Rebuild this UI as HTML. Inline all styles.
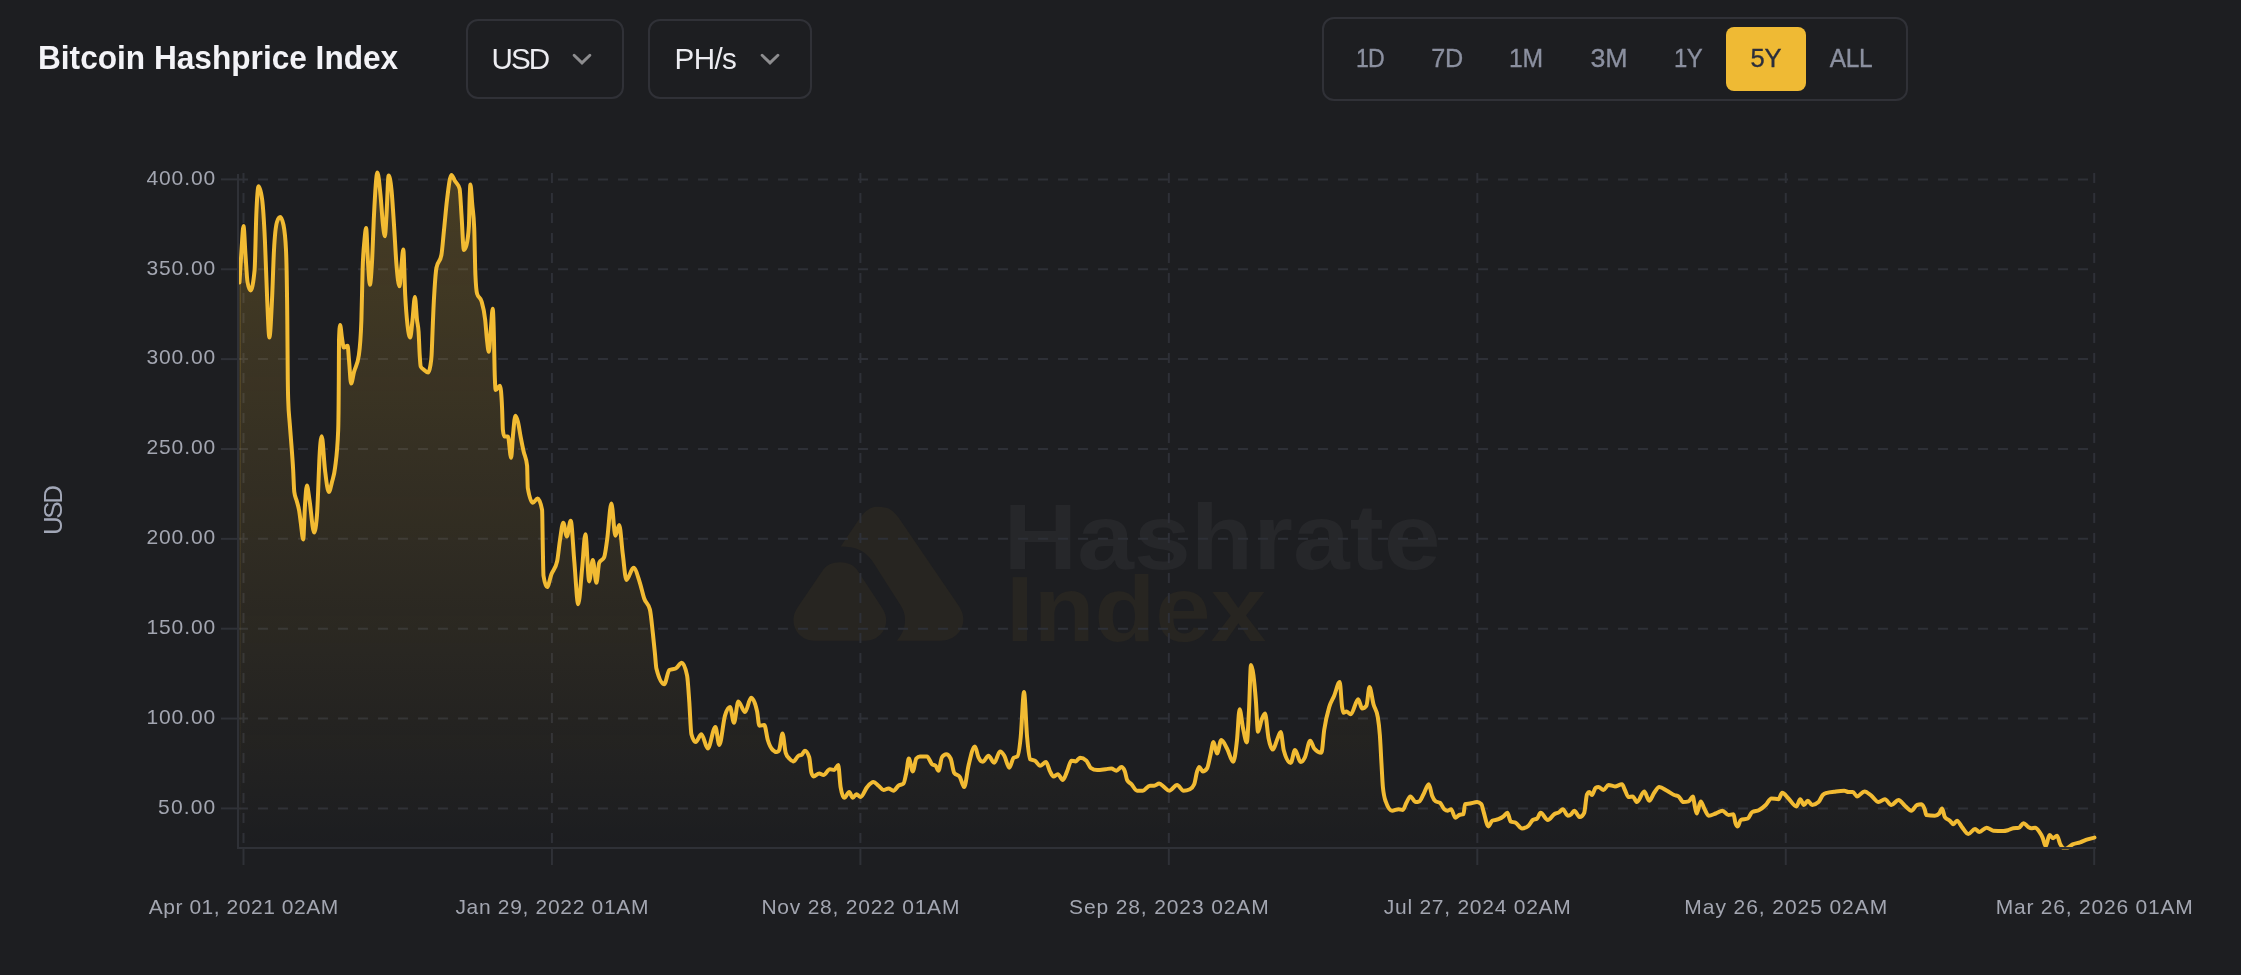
<!DOCTYPE html>
<html lang="en"><head><meta charset="utf-8"><title>Bitcoin Hashprice Index</title>
<style>
html,body{margin:0;padding:0;background:#1d1e21;}
body{width:2241px;height:975px;position:relative;overflow:hidden;font-family:"Liberation Sans",Arial,sans-serif;}
#app{position:absolute;left:0;top:0;width:2241px;height:975px;will-change:transform;transform:translateZ(0);}
.title{margin:0;position:absolute;left:37.500px;top:36.500px;font-size:34px;line-height:40px;font-weight:700;color:#f3f3f7;white-space:nowrap;transform:scaleX(0.930);transform-origin:0 0;}
.dd{position:absolute;top:19px;height:80px;box-sizing:border-box;border:2px solid #303137;border-radius:12px;}
.dd span{position:absolute;top:19.850px;font-size:29.600px;line-height:36px;color:#ececf1;white-space:nowrap;}
.dd svg{position:absolute;top:29.200px;}
.range{position:absolute;left:1322px;top:17px;width:586px;height:84px;box-sizing:border-box;border:2px solid #303137;border-radius:12px;}
.range b{position:absolute;top:24.100px;font-weight:400;font-size:26px;line-height:30px;color:#8b90a0;transform:translateX(-50%);white-space:nowrap;-webkit-text-stroke:0.350px #8b90a0;}
.range i{position:absolute;left:402px;top:8px;width:80px;height:64px;background:#efba34;border-radius:8px;}
.range b.on{color:#2b2e3c;-webkit-text-stroke:0.350px #2b2e3c;}
</style></head><body><div id="app">
<h1 class="title">Bitcoin Hashprice Index</h1>
<div class="dd" role="button" style="left:466px;width:158px;"><span style="left:23.500px;letter-spacing:-1.900px">USD</span><svg width="24" height="18" viewBox="-12 -9 24 18" style="left:102.250px"><path d="M-7.900,-3.800 L0,3.900 L7.900,-3.800" fill="none" stroke="#8d8d8f" stroke-width="2.900" stroke-linecap="round" stroke-linejoin="miter"/></svg></div>
<div class="dd" role="button" style="left:648px;width:164px;"><span style="left:24.500px;letter-spacing:-0.600px">PH/s</span><svg width="24" height="18" viewBox="-12 -9 24 18" style="left:107.900px"><path d="M-7.900,-3.800 L0,3.900 L7.900,-3.800" fill="none" stroke="#8d8d8f" stroke-width="2.900" stroke-linecap="round" stroke-linejoin="miter"/></svg></div>
<div class="range" role="group"><i></i><b style="left:45.85px;letter-spacing:-0.80px;transform:translateX(-50%) scaleX(0.890)">1D</b><b style="left:123.35px;letter-spacing:-0.30px;transform:translateX(-50%) scaleX(0.970)">7D</b><b style="left:202.45px;letter-spacing:-0.30px;transform:translateX(-50%) scaleX(0.950)">1M</b><b style="left:285.15px;letter-spacing:0.00px;transform:translateX(-50%) scaleX(1.030)">3M</b><b style="left:364.25px;letter-spacing:-0.80px;transform:translateX(-50%) scaleX(0.920)">1Y</b><b class="on" style="left:442.20px;letter-spacing:0.00px;transform:translateX(-50%) scaleX(0.980)">5Y</b><b style="left:527.45px;letter-spacing:-0.30px;transform:translateX(-50%) scaleX(0.940)">ALL</b></div>
<svg width="2241" height="975" viewBox="0 0 2241 975" style="position:absolute;left:0;top:0">
<defs><linearGradient id="ag" x1="0" y1="172" x2="0" y2="848" gradientUnits="userSpaceOnUse"><stop offset="0" stop-color="#f2bb33" stop-opacity="0.2"/><stop offset="1" stop-color="#f2bb33" stop-opacity="0.0"/></linearGradient><clipPath id="cp"><rect x="238" y="160" width="1860" height="689.5"/></clipPath></defs>
<g id="wm">
<path fill="#272521" d="M840.7,546.4 L857.5,521.5 C866,508.500 872,506.800 878.400,506.800 C886,506.800 892,508.500 898.500,517.500 L958.200,605 C962.500,611.500 963.300,615.500 963.300,620 C963.300,630 955,640.700 940.500,640.700 L896.800,640.700 C902.500,634 905,628 905,620 C905,614 903.500,610 901,606 L872,560.500 C865,550.500 855,546.500 840.700,546.400Z"/>
<path fill="#272521" d="M839.900,562.300 C832,562.300 826.500,565 822.300,571 L798,606.800 C794.500,612 793.500,616 793.500,620.500 C793.500,631 802,640.700 814.500,640.700 L865.300,640.700 C878,640.700 886.200,631 886.200,620.500 C886.200,616 885,612 881.700,607.200 L857.400,570.200 C853.500,565 848,562.300 839.900,562.300Z"/>
<text x="1003.5" y="569" font-family="Liberation Sans, Arial, sans-serif" font-weight="700" font-size="92.2" fill="#26272a" textLength="437" lengthAdjust="spacingAndGlyphs">Hashrate</text>
<text x="1006" y="641" font-family="Liberation Sans, Arial, sans-serif" font-weight="700" font-size="92.2" fill="#272521" textLength="260" lengthAdjust="spacingAndGlyphs">Index</text>
</g>
<g stroke="#2e3037" stroke-width="2" stroke-dasharray="10 10" fill="none">
<line x1="238" y1="179.40" x2="2096" y2="179.40"/>
<line x1="238" y1="269.26" x2="2096" y2="269.26"/>
<line x1="238" y1="359.12" x2="2096" y2="359.12"/>
<line x1="238" y1="448.98" x2="2096" y2="448.98"/>
<line x1="238" y1="538.84" x2="2096" y2="538.84"/>
<line x1="238" y1="628.70" x2="2096" y2="628.70"/>
<line x1="238" y1="718.56" x2="2096" y2="718.56"/>
<line x1="238" y1="808.42" x2="2096" y2="808.42"/>
<line x1="243.50" y1="173" x2="243.50" y2="848"/>
<line x1="551.95" y1="173" x2="551.95" y2="848"/>
<line x1="860.40" y1="173" x2="860.40" y2="848"/>
<line x1="1168.85" y1="173" x2="1168.85" y2="848"/>
<line x1="1477.30" y1="173" x2="1477.30" y2="848"/>
<line x1="1785.75" y1="173" x2="1785.75" y2="848"/>
<line x1="2094.20" y1="173" x2="2094.20" y2="848"/>
</g>
<g clip-path="url(#cp)"><path d="M239.50,282.50C240.17,270.96 240.83,259.42 241.50,250.00C242.17,240.58 242.83,226.00 243.50,226.00C244.17,226.00 244.83,245.67 245.50,255.00C246.17,264.33 246.83,278.30 247.50,282.00C248.53,287.73 249.57,290.60 250.60,290.60C251.93,290.60 253.27,283.73 254.60,270.00C255.17,264.16 255.73,228.56 256.30,215.00C257.07,196.66 257.83,186.20 258.60,186.20C259.80,186.20 261.00,190.80 262.20,200.00C263.10,206.90 264.00,221.19 264.90,240.00C265.67,256.02 266.43,283.53 267.20,300.00C267.93,315.76 268.67,337.60 269.40,337.60C270.27,337.60 271.13,317.70 272.00,300.00C272.67,286.39 273.33,262.44 274.00,250.00C275.00,231.33 276.00,225.12 277.00,222.00C278.07,218.67 279.13,217.00 280.20,217.00C281.30,217.00 282.40,219.67 283.50,225.00C284.33,229.04 285.17,233.33 286.00,250.00C286.43,258.67 286.87,275.96 287.30,320.00C287.47,336.94 287.63,366.48 287.80,380.00C287.93,390.81 288.07,395.91 288.20,400.00C288.70,415.33 289.20,415.91 289.70,423.00C290.30,431.50 290.90,437.83 291.50,446.00C292.03,453.27 292.57,459.87 293.10,469.00C293.50,475.85 293.90,489.08 294.30,492.00C295.17,498.33 296.03,498.11 296.90,501.50C297.67,504.50 298.43,506.31 299.20,511.00C299.73,514.26 300.27,519.14 300.80,523.00C301.60,528.79 302.40,539.40 303.20,539.40C303.80,539.40 304.40,513.90 305.00,505.00C305.63,495.61 306.27,485.40 306.90,485.40C307.77,485.40 308.63,494.68 309.50,500.00C311.03,509.41 312.57,532.50 314.10,532.50C315.07,532.50 316.03,526.67 317.00,515.00C317.37,510.57 317.73,500.53 318.10,492.00C318.50,482.69 318.90,469.23 319.30,461.00C320.10,444.53 320.90,436.30 321.70,436.30C322.80,436.30 323.90,461.03 325.00,470.00C326.27,480.33 327.53,492.00 328.80,492.00C329.87,492.00 330.93,486.16 332.00,482.00C333.03,477.97 334.07,476.27 335.10,467.60C336.13,458.93 337.17,455.07 338.20,430.00C338.40,425.15 338.60,413.33 338.80,380.00C338.87,368.89 338.93,341.82 339.00,340.00C339.37,330.00 339.73,325.00 340.10,325.00C340.73,325.00 341.37,334.16 342.00,338.00C342.60,341.64 343.20,347.60 343.80,347.60C345.07,347.60 346.33,345.70 347.60,345.70C348.07,345.70 348.53,355.05 349.00,360.00C349.70,367.42 350.40,383.50 351.10,383.50C352.07,383.50 353.03,375.66 354.00,372.00C355.63,365.82 357.27,366.33 358.90,355.00C359.73,349.22 360.57,343.33 361.40,320.00C361.80,308.80 362.20,282.63 362.60,270.00C363.23,250.00 363.87,247.13 364.50,240.00C365.03,234.00 365.57,228.10 366.10,228.10C366.73,228.10 367.37,252.55 368.00,262.00C368.63,271.45 369.27,284.80 369.90,284.80C370.60,284.80 371.30,274.13 372.00,262.00C372.67,250.44 373.33,227.95 374.00,215.00C375.13,192.98 376.27,172.50 377.40,172.50C378.43,172.50 379.47,184.79 380.50,195.00C381.33,203.24 382.17,217.87 383.00,225.00C383.63,230.42 384.27,236.30 384.90,236.30C385.43,236.30 385.97,223.36 386.50,215.00C387.20,204.03 387.90,175.60 388.60,175.60C389.57,175.60 390.53,180.51 391.50,190.00C392.33,198.18 393.17,212.50 394.00,225.00C394.83,237.50 395.67,255.04 396.50,265.00C397.50,276.95 398.50,286.30 399.50,286.30C400.17,286.30 400.83,271.38 401.50,265.00C402.10,259.25 402.70,249.50 403.30,249.50C403.93,249.50 404.57,282.96 405.20,295.00C405.97,309.58 406.73,317.95 407.50,325.00C408.40,333.27 409.30,337.60 410.20,337.60C410.97,337.60 411.73,326.61 412.50,320.00C413.30,313.11 414.10,296.90 414.90,296.90C415.60,296.90 416.30,313.69 417.00,320.00C417.53,324.81 418.07,324.00 418.60,332.00C418.97,337.50 419.33,349.14 419.70,355.00C420.03,360.33 420.37,365.79 420.70,366.50C421.67,368.57 422.63,368.72 423.60,369.60C425.13,370.99 426.67,372.60 428.20,372.60C428.90,372.60 429.60,370.40 430.30,366.00C430.73,363.28 431.17,362.33 431.60,355.00C431.93,349.36 432.27,338.24 432.60,330.00C432.90,322.59 433.20,314.42 433.50,308.00C433.83,300.87 434.17,295.26 434.50,290.00C435.13,280.00 435.77,271.29 436.40,268.00C438.07,259.33 439.73,263.67 441.40,255.00C442.27,250.49 443.13,238.49 444.00,230.00C445.00,220.21 446.00,208.25 447.00,200.00C448.47,187.90 449.93,175.00 451.40,175.00C452.60,175.00 453.80,178.98 455.00,181.00C456.53,183.58 458.07,183.60 459.60,188.80C460.23,190.95 460.87,206.04 461.50,215.00C462.30,226.31 463.10,250.00 463.90,250.00C464.77,250.00 465.63,248.33 466.50,245.00C467.30,241.92 468.10,238.67 468.90,226.00C469.13,222.31 469.37,206.73 469.60,200.00C469.87,192.31 470.13,184.50 470.40,184.50C471.03,184.50 471.67,197.75 472.30,205.00C472.93,212.25 473.57,212.67 474.20,228.00C474.60,237.68 475.00,266.15 475.40,275.00C475.97,287.53 476.53,291.87 477.10,293.80C478.57,298.80 480.03,296.30 481.50,301.30C482.73,305.50 483.97,308.74 485.20,320.00C485.80,325.48 486.40,334.70 487.00,340.00C487.60,345.30 488.20,351.80 488.80,351.80C489.47,351.80 490.13,337.35 490.80,330.00C491.43,323.01 492.07,308.80 492.70,308.80C493.13,308.80 493.57,321.89 494.00,340.00C494.20,348.36 494.40,362.73 494.60,370.00C494.97,383.33 495.33,390.00 495.70,390.00C497.13,390.00 498.57,385.70 500.00,385.70C500.70,385.70 501.40,393.33 502.10,408.60C502.37,414.42 502.63,427.56 502.90,430.00C503.37,434.27 503.83,436.40 504.30,436.40C505.50,436.40 506.70,436.40 507.90,436.40C508.97,436.40 510.03,457.80 511.10,457.80C511.73,457.80 512.37,441.49 513.00,435.00C513.80,426.80 514.60,415.70 515.40,415.70C516.27,415.70 517.13,418.55 518.00,422.00C518.90,425.58 519.80,432.35 520.70,437.10C521.67,442.20 522.63,447.00 523.60,451.40C524.77,456.71 525.93,456.17 527.10,465.70C527.33,467.61 527.57,486.62 527.80,488.00C529.47,497.87 531.13,502.80 532.80,502.80C534.40,502.80 536.00,498.50 537.60,498.50C539.10,498.50 540.60,502.33 542.10,510.00C542.33,511.19 542.57,536.15 542.80,547.10C543.03,558.05 543.27,574.22 543.50,575.70C544.70,583.30 545.90,587.10 547.10,587.10C548.53,587.10 549.97,578.13 551.40,574.30C553.30,569.23 555.20,570.00 557.10,561.40C558.07,557.02 559.03,546.15 560.00,540.00C561.10,533.00 562.20,522.80 563.30,522.80C564.47,522.80 565.63,536.40 566.80,536.40C568.10,536.40 569.40,520.70 570.70,520.70C571.90,520.70 573.10,548.02 574.30,561.40C575.60,575.89 576.90,604.20 578.20,604.20C579.50,604.20 580.80,581.25 582.10,568.50C583.20,557.71 584.30,534.30 585.40,534.30C586.67,534.30 587.93,581.40 589.20,581.40C590.40,581.40 591.60,560.00 592.80,560.00C594.00,560.00 595.20,582.80 596.40,582.80C597.33,582.80 598.27,564.93 599.20,562.80C600.87,559.00 602.53,560.90 604.20,557.10C605.17,554.90 606.13,546.70 607.10,540.00C608.53,530.07 609.97,503.60 611.40,503.60C612.73,503.60 614.07,535.70 615.40,535.70C616.67,535.70 617.93,525.00 619.20,525.00C620.40,525.00 621.60,545.13 622.80,554.30C624.00,563.47 625.20,580.00 626.40,580.00C628.77,580.00 631.13,567.80 633.50,567.80C635.63,567.80 637.77,576.13 639.90,582.80C641.33,587.28 642.77,594.33 644.20,598.50C646.10,604.03 648.00,602.17 649.90,609.50C650.87,613.23 651.83,624.08 652.80,632.80C653.53,639.42 654.27,646.97 655.00,654.30C655.47,658.97 655.93,666.65 656.40,668.50C659.03,678.97 661.67,684.20 664.30,684.20C665.97,684.20 667.63,670.78 669.30,670.00C671.43,669.00 673.57,669.50 675.70,668.50C677.73,667.55 679.77,662.80 681.80,662.80C683.57,662.80 685.33,667.10 687.10,675.70C687.83,679.27 688.57,691.95 689.30,702.00C690.00,711.60 690.70,731.76 691.40,734.30C692.83,739.50 694.27,742.10 695.70,742.10C697.60,742.10 699.50,734.30 701.40,734.30C703.53,734.30 705.67,748.50 707.80,748.50C710.33,748.50 712.87,727.10 715.40,727.10C716.70,727.10 718.00,745.00 719.30,745.00C721.20,745.00 723.10,722.00 725.00,715.70C726.67,710.17 728.33,707.10 730.00,707.10C731.33,707.10 732.67,722.80 734.00,722.80C735.43,722.80 736.87,701.40 738.30,701.40C740.53,701.40 742.77,712.10 745.00,712.10C747.03,712.10 749.07,697.80 751.10,697.80C753.10,697.80 755.10,702.33 757.10,711.40C757.83,714.72 758.57,725.70 759.30,725.70C760.97,725.70 762.63,725.00 764.30,725.00C765.47,725.00 766.63,736.10 767.80,740.00C769.47,745.57 771.13,748.37 772.80,750.00C774.23,751.40 775.67,752.10 777.10,752.10C777.80,752.10 778.50,751.40 779.20,750.00C780.30,747.80 781.40,733.50 782.50,733.50C783.57,733.50 784.63,749.33 785.70,752.80C786.87,756.60 788.03,757.10 789.20,758.50C790.63,760.22 792.07,761.40 793.50,761.40C795.17,761.40 796.83,756.50 798.50,755.70C799.47,755.23 800.43,755.47 801.40,755.00C802.57,754.44 803.73,750.70 804.90,750.70C806.33,750.70 807.77,752.83 809.20,757.10C809.93,759.28 810.67,770.29 811.40,772.80C812.10,775.20 812.80,776.40 813.50,776.40C815.40,776.40 817.30,773.50 819.20,773.50C820.63,773.50 822.07,775.00 823.50,775.00C825.63,775.00 827.77,769.20 829.90,769.20C831.33,769.20 832.77,770.00 834.20,770.00C835.53,770.00 836.87,765.00 838.20,765.00C839.00,765.00 839.80,782.34 840.60,787.10C841.80,794.23 843.00,797.80 844.20,797.80C845.87,797.80 847.53,792.10 849.20,792.10C850.40,792.10 851.60,797.80 852.80,797.80C854.00,797.80 855.20,794.20 856.40,794.20C857.80,794.20 859.20,797.10 860.60,797.10C862.77,797.10 864.93,789.61 867.10,787.10C869.23,784.63 871.37,782.10 873.50,782.10C875.17,782.10 876.83,784.38 878.50,785.70C880.17,787.02 881.83,790.00 883.50,790.00C885.17,790.00 886.83,788.50 888.50,788.50C890.17,788.50 891.83,790.70 893.50,790.70C895.17,790.70 896.83,786.90 898.50,785.70C900.17,784.50 901.83,784.97 903.50,783.50C904.43,782.68 905.37,777.30 906.30,772.80C907.13,768.78 907.97,758.50 908.80,758.50C910.13,758.50 911.47,771.40 912.80,771.40C913.97,771.40 915.13,759.86 916.30,758.50C917.50,757.10 918.70,756.40 919.90,756.40C922.27,756.40 924.63,756.40 927.00,756.40C928.67,756.40 930.33,762.81 932.00,764.20C933.20,765.20 934.40,764.70 935.60,765.70C936.57,766.51 937.53,770.70 938.50,770.70C939.67,770.70 940.83,758.62 942.00,757.10C943.43,755.23 944.87,754.30 946.30,754.30C947.73,754.30 949.17,755.70 950.60,758.50C951.80,760.84 953.00,770.99 954.20,772.80C956.10,775.67 958.00,774.23 959.90,777.10C961.33,779.26 962.77,787.10 964.20,787.10C965.63,787.10 967.07,771.70 968.50,765.70C970.63,756.76 972.77,746.40 974.90,746.40C976.07,746.40 977.23,754.61 978.40,757.10C979.87,760.23 981.33,761.80 982.80,761.80C984.70,761.80 986.60,755.70 988.50,755.70C990.40,755.70 992.30,762.80 994.20,762.80C996.13,762.80 998.07,751.40 1000.00,751.40C1001.43,751.40 1002.87,753.33 1004.30,755.70C1005.97,758.46 1007.63,767.80 1009.30,767.80C1010.73,767.80 1012.17,758.86 1013.60,757.80C1014.87,756.87 1016.13,757.33 1017.40,756.40C1018.50,755.59 1019.60,747.82 1020.70,737.10C1021.80,726.38 1022.90,692.10 1024.00,692.10C1025.03,692.10 1026.07,725.76 1027.10,737.10C1028.07,747.71 1029.03,758.76 1030.00,759.30C1031.67,760.23 1033.33,759.77 1035.00,760.70C1036.67,761.63 1038.33,765.70 1040.00,765.70C1042.00,765.70 1044.00,762.10 1046.00,762.10C1047.33,762.10 1048.67,768.94 1050.00,771.40C1051.17,773.55 1052.33,776.40 1053.50,776.40C1054.93,776.40 1056.37,774.20 1057.80,774.20C1059.47,774.20 1061.13,780.00 1062.80,780.00C1064.23,780.00 1065.67,774.62 1067.10,771.40C1068.53,768.18 1069.97,760.70 1071.40,760.70C1072.83,760.70 1074.27,761.40 1075.70,761.40C1077.13,761.40 1078.57,757.80 1080.00,757.80C1082.13,757.80 1084.27,758.77 1086.40,760.70C1087.83,762.00 1089.27,766.81 1090.70,767.80C1092.83,769.27 1094.97,770.00 1097.10,770.00C1099.97,770.00 1102.83,769.52 1105.70,769.20C1107.60,768.99 1109.50,768.50 1111.40,768.50C1113.07,768.50 1114.73,770.70 1116.40,770.70C1118.07,770.70 1119.73,767.10 1121.40,767.10C1122.57,767.10 1123.73,768.53 1124.90,771.40C1125.63,773.20 1126.37,778.57 1127.10,780.00C1128.53,782.80 1129.97,782.70 1131.40,784.20C1133.30,786.19 1135.20,790.70 1137.10,790.70C1139.00,790.70 1140.90,790.70 1142.80,790.70C1145.17,790.70 1147.53,785.70 1149.90,785.70C1151.33,785.70 1152.77,785.70 1154.20,785.70C1155.87,785.70 1157.53,783.50 1159.20,783.50C1160.87,783.50 1162.53,785.90 1164.20,787.10C1165.87,788.30 1167.53,790.70 1169.20,790.70C1171.83,790.70 1174.47,785.00 1177.10,785.00C1179.23,785.00 1181.37,790.70 1183.50,790.70C1185.63,790.70 1187.77,790.20 1189.90,789.20C1191.33,788.53 1192.77,787.53 1194.20,784.20C1195.17,781.95 1196.13,774.34 1197.10,771.40C1197.80,769.27 1198.50,767.10 1199.20,767.10C1200.40,767.10 1201.60,771.40 1202.80,771.40C1204.20,771.40 1205.60,770.43 1207.00,768.50C1208.20,766.84 1209.40,759.21 1210.60,754.30C1211.57,750.35 1212.53,742.10 1213.50,742.10C1214.67,742.10 1215.83,753.50 1217.00,753.50C1218.43,753.50 1219.87,740.00 1221.30,740.00C1223.20,740.00 1225.10,745.07 1227.00,748.50C1229.07,752.23 1231.13,761.80 1233.20,761.80C1234.47,761.80 1235.73,751.83 1237.00,740.00C1237.87,731.90 1238.73,709.30 1239.60,709.30C1240.73,709.30 1241.87,722.68 1243.00,728.00C1244.27,733.94 1245.53,742.40 1246.80,742.40C1247.53,742.40 1248.27,723.79 1249.00,710.00C1249.67,697.47 1250.33,665.00 1251.00,665.00C1252.63,665.00 1254.27,680.63 1255.90,701.00C1256.60,709.73 1257.30,731.80 1258.00,731.80C1259.17,731.80 1260.33,723.05 1261.50,720.00C1262.67,716.95 1263.83,713.50 1265.00,713.50C1266.17,713.50 1267.33,732.09 1268.50,738.00C1269.93,745.27 1271.37,749.60 1272.80,749.60C1274.20,749.60 1275.60,743.09 1277.00,740.00C1278.23,737.28 1279.47,732.10 1280.70,732.10C1281.73,732.10 1282.77,746.76 1283.80,750.50C1286.10,758.83 1288.40,763.00 1290.70,763.00C1292.13,763.00 1293.57,750.00 1295.00,750.00C1296.90,750.00 1298.80,762.10 1300.70,762.10C1302.13,762.10 1303.57,760.06 1305.00,757.10C1306.73,753.52 1308.47,740.70 1310.20,740.70C1311.53,740.70 1312.87,746.91 1314.20,748.50C1316.60,751.37 1319.00,752.80 1321.40,752.80C1322.33,752.80 1323.27,736.41 1324.20,730.00C1325.87,718.56 1327.53,712.82 1329.20,707.10C1330.87,701.38 1332.53,699.65 1334.20,695.70C1336.03,691.35 1337.87,682.10 1339.70,682.10C1340.50,682.10 1341.30,701.97 1342.10,707.10C1342.57,710.09 1343.03,712.80 1343.50,712.80C1344.47,712.80 1345.43,711.40 1346.40,711.40C1347.83,711.40 1349.27,714.30 1350.70,714.30C1353.20,714.30 1355.70,699.30 1358.20,699.30C1359.50,699.30 1360.80,708.50 1362.10,708.50C1363.53,708.50 1364.97,707.57 1366.40,705.70C1367.43,704.35 1368.47,687.10 1369.50,687.10C1370.83,687.10 1372.17,699.42 1373.50,704.30C1374.93,709.55 1376.37,708.57 1377.80,717.10C1378.50,721.27 1379.20,725.99 1379.90,735.70C1380.43,743.10 1380.97,754.90 1381.50,764.00C1381.97,771.96 1382.43,782.33 1382.90,787.10C1383.83,796.63 1384.77,798.69 1385.70,801.40C1387.83,807.60 1389.97,810.70 1392.10,810.70C1394.27,810.70 1396.43,809.20 1398.60,809.20C1400.00,809.20 1401.40,810.00 1402.80,810.00C1404.00,810.00 1405.20,804.97 1406.40,802.80C1407.73,800.39 1409.07,796.40 1410.40,796.40C1412.17,796.40 1413.93,802.10 1415.70,802.10C1416.90,802.10 1418.10,801.87 1419.30,801.40C1420.70,800.86 1422.10,796.79 1423.50,794.30C1425.27,791.16 1427.03,784.30 1428.80,784.30C1429.90,784.30 1431.00,792.88 1432.10,795.70C1433.30,798.77 1434.50,800.62 1435.70,801.40C1437.13,802.33 1438.57,801.87 1440.00,802.80C1441.43,803.73 1442.87,807.97 1444.30,809.20C1445.47,810.20 1446.63,810.70 1447.80,810.70C1448.90,810.70 1450.00,809.20 1451.10,809.20C1452.50,809.20 1453.90,817.80 1455.30,817.80C1456.60,817.80 1457.90,815.48 1459.20,815.00C1460.63,814.47 1462.07,814.73 1463.50,814.20C1464.00,814.01 1464.50,804.34 1465.00,804.20C1466.67,803.73 1468.33,803.77 1470.00,803.50C1472.37,803.11 1474.73,802.10 1477.10,802.10C1478.53,802.10 1479.97,802.80 1481.40,804.20C1482.10,804.88 1482.80,809.09 1483.50,811.40C1485.17,816.90 1486.83,826.40 1488.50,826.40C1489.70,826.40 1490.90,821.26 1492.10,820.70C1494.23,819.70 1496.37,820.09 1498.50,819.20C1500.17,818.50 1501.83,817.67 1503.50,816.40C1504.80,815.41 1506.10,812.80 1507.40,812.80C1508.50,812.80 1509.60,820.78 1510.70,821.40C1512.37,822.33 1514.03,821.89 1515.70,822.80C1517.83,823.97 1519.97,828.50 1522.10,828.50C1524.23,828.50 1526.37,827.57 1528.50,825.70C1529.93,824.45 1531.37,821.00 1532.80,820.00C1534.23,819.00 1535.67,819.50 1537.10,818.50C1538.27,817.69 1539.43,812.80 1540.60,812.80C1543.00,812.80 1545.40,820.00 1547.80,820.00C1549.93,820.00 1552.07,815.55 1554.20,814.20C1555.87,813.14 1557.53,813.17 1559.20,812.10C1560.40,811.33 1561.60,809.20 1562.80,809.20C1564.47,809.20 1566.13,815.70 1567.80,815.70C1568.97,815.70 1570.13,815.20 1571.30,814.20C1572.27,813.37 1573.23,810.70 1574.20,810.70C1576.10,810.70 1578.00,817.10 1579.90,817.10C1581.33,817.10 1582.77,815.67 1584.20,812.80C1585.13,810.93 1586.07,796.17 1587.00,794.30C1587.73,792.83 1588.47,792.10 1589.20,792.10C1590.13,792.10 1591.07,795.00 1592.00,795.00C1593.20,795.00 1594.40,788.38 1595.60,787.80C1596.57,787.33 1597.53,787.10 1598.50,787.10C1600.17,787.10 1601.83,790.00 1603.50,790.00C1605.17,790.00 1606.83,785.00 1608.50,785.00C1610.63,785.00 1612.77,786.40 1614.90,786.40C1617.27,786.40 1619.63,784.30 1622.00,784.30C1622.97,784.30 1623.93,788.10 1624.90,790.00C1626.10,792.36 1627.30,797.10 1628.50,797.10C1629.90,797.10 1631.30,796.40 1632.70,796.40C1634.13,796.40 1635.57,802.10 1637.00,802.10C1639.40,802.10 1641.80,791.40 1644.20,791.40C1645.87,791.40 1647.53,800.70 1649.20,800.70C1650.87,800.70 1652.53,795.07 1654.20,792.80C1655.87,790.53 1657.53,787.10 1659.20,787.10C1661.80,787.10 1664.40,789.32 1667.00,790.70C1669.40,791.98 1671.80,793.97 1674.20,795.00C1675.63,795.61 1677.07,795.47 1678.50,796.40C1680.17,797.49 1681.83,802.10 1683.50,802.10C1685.20,802.10 1686.90,801.87 1688.60,801.40C1690.00,801.02 1691.40,796.40 1692.80,796.40C1693.53,796.40 1694.27,803.99 1695.00,807.10C1695.57,809.50 1696.13,813.50 1696.70,813.50C1698.03,813.50 1699.37,801.40 1700.70,801.40C1701.90,801.40 1703.10,806.30 1704.30,808.50C1705.73,811.13 1707.17,815.70 1708.60,815.70C1710.97,815.70 1713.33,814.36 1715.70,813.50C1717.97,812.68 1720.23,810.70 1722.50,810.70C1724.50,810.70 1726.50,815.00 1728.50,815.00C1730.17,815.00 1731.83,814.20 1733.50,814.20C1734.13,814.20 1734.77,820.90 1735.40,822.80C1736.20,825.20 1737.00,826.40 1737.80,826.40C1738.77,826.40 1739.73,820.41 1740.70,820.00C1743.07,819.00 1745.43,819.50 1747.80,818.50C1749.23,817.89 1750.67,812.95 1752.10,812.10C1754.47,810.70 1756.83,811.28 1759.20,810.00C1761.37,808.82 1763.53,807.10 1765.70,805.00C1767.60,803.16 1769.50,798.50 1771.40,798.50C1773.77,798.50 1776.13,799.20 1778.50,799.20C1779.70,799.20 1780.90,792.80 1782.10,792.80C1784.23,792.80 1786.37,796.50 1788.50,798.50C1791.13,800.97 1793.77,806.40 1796.40,806.40C1797.67,806.40 1798.93,799.20 1800.20,799.20C1801.43,799.20 1802.67,805.00 1803.90,805.00C1805.20,805.00 1806.50,800.70 1807.80,800.70C1809.23,800.70 1810.67,805.00 1812.10,805.00C1814.23,805.00 1816.37,804.03 1818.50,802.10C1819.93,800.80 1821.37,796.47 1822.80,795.00C1824.23,793.53 1825.67,793.24 1827.10,792.80C1829.47,792.07 1831.83,792.01 1834.20,791.70C1837.53,791.26 1840.87,790.70 1844.20,790.70C1845.63,790.70 1847.07,792.10 1848.50,792.10C1849.93,792.10 1851.37,792.10 1852.80,792.10C1854.23,792.10 1855.67,796.40 1857.10,796.40C1859.57,796.40 1862.03,791.40 1864.50,791.40C1866.77,791.40 1869.03,793.98 1871.30,795.70C1873.70,797.52 1876.10,802.10 1878.50,802.10C1880.63,802.10 1882.77,799.20 1884.90,799.20C1887.03,799.20 1889.17,805.00 1891.30,805.00C1893.70,805.00 1896.10,800.00 1898.50,800.00C1900.63,800.00 1902.77,803.92 1904.90,805.70C1907.03,807.48 1909.17,810.70 1911.30,810.70C1913.20,810.70 1915.10,805.62 1917.00,805.00C1918.43,804.53 1919.87,804.30 1921.30,804.30C1922.50,804.30 1923.70,806.38 1924.90,810.00C1925.37,811.41 1925.83,814.92 1926.30,815.00C1929.17,815.47 1932.03,815.70 1934.90,815.70C1936.33,815.70 1937.77,814.97 1939.20,813.50C1940.13,812.54 1941.07,808.50 1942.00,808.50C1942.97,808.50 1943.93,815.71 1944.90,817.10C1946.57,819.50 1948.23,819.23 1949.90,820.70C1951.07,821.73 1952.23,824.20 1953.40,824.20C1954.60,824.20 1955.80,820.70 1957.00,820.70C1958.67,820.70 1960.33,825.10 1962.00,827.10C1964.10,829.62 1966.20,834.00 1968.30,834.00C1970.53,834.00 1972.77,829.00 1975.00,829.00C1976.43,829.00 1977.87,832.00 1979.30,832.00C1981.73,832.00 1984.17,827.70 1986.60,827.70C1988.80,827.70 1991.00,830.52 1993.20,830.70C1996.53,830.97 1999.87,831.10 2003.20,831.10C2004.87,831.10 2006.53,830.58 2008.20,830.10C2009.87,829.62 2011.53,828.44 2013.20,828.20C2015.07,827.93 2016.93,828.07 2018.80,827.80C2020.40,827.57 2022.00,823.20 2023.60,823.20C2025.13,823.20 2026.67,826.02 2028.20,826.90C2029.23,827.49 2030.27,828.20 2031.30,828.20C2032.57,828.20 2033.83,827.80 2035.10,827.80C2036.53,827.80 2037.97,829.85 2039.40,831.90C2040.47,833.42 2041.53,835.14 2042.60,837.60C2043.63,839.98 2044.67,846.30 2045.70,846.30C2046.97,846.30 2048.23,835.10 2049.50,835.10C2050.73,835.10 2051.97,838.20 2053.20,838.20C2054.47,838.20 2055.73,835.70 2057.00,835.70C2058.03,835.70 2059.07,841.72 2060.10,843.80C2061.77,847.15 2063.43,849.00 2065.10,849.00C2067.60,849.00 2070.10,845.52 2072.60,844.40C2075.10,843.28 2077.60,843.13 2080.10,842.30C2082.60,841.47 2085.10,840.20 2087.60,839.40C2089.90,838.66 2092.20,838.13 2094.50,837.60L2094.50,848L239,848L239,282.50Z" fill="url(#ag)"/><rect x="240" y="270.5" width="1" height="577.5" fill="url(#ag)"/></g>
<g clip-path="url(#cp)"><path d="M239.50,282.50C240.17,270.96 240.83,259.42 241.50,250.00C242.17,240.58 242.83,226.00 243.50,226.00C244.17,226.00 244.83,245.67 245.50,255.00C246.17,264.33 246.83,278.30 247.50,282.00C248.53,287.73 249.57,290.60 250.60,290.60C251.93,290.60 253.27,283.73 254.60,270.00C255.17,264.16 255.73,228.56 256.30,215.00C257.07,196.66 257.83,186.20 258.60,186.20C259.80,186.20 261.00,190.80 262.20,200.00C263.10,206.90 264.00,221.19 264.90,240.00C265.67,256.02 266.43,283.53 267.20,300.00C267.93,315.76 268.67,337.60 269.40,337.60C270.27,337.60 271.13,317.70 272.00,300.00C272.67,286.39 273.33,262.44 274.00,250.00C275.00,231.33 276.00,225.12 277.00,222.00C278.07,218.67 279.13,217.00 280.20,217.00C281.30,217.00 282.40,219.67 283.50,225.00C284.33,229.04 285.17,233.33 286.00,250.00C286.43,258.67 286.87,275.96 287.30,320.00C287.47,336.94 287.63,366.48 287.80,380.00C287.93,390.81 288.07,395.91 288.20,400.00C288.70,415.33 289.20,415.91 289.70,423.00C290.30,431.50 290.90,437.83 291.50,446.00C292.03,453.27 292.57,459.87 293.10,469.00C293.50,475.85 293.90,489.08 294.30,492.00C295.17,498.33 296.03,498.11 296.90,501.50C297.67,504.50 298.43,506.31 299.20,511.00C299.73,514.26 300.27,519.14 300.80,523.00C301.60,528.79 302.40,539.40 303.20,539.40C303.80,539.40 304.40,513.90 305.00,505.00C305.63,495.61 306.27,485.40 306.90,485.40C307.77,485.40 308.63,494.68 309.50,500.00C311.03,509.41 312.57,532.50 314.10,532.50C315.07,532.50 316.03,526.67 317.00,515.00C317.37,510.57 317.73,500.53 318.10,492.00C318.50,482.69 318.90,469.23 319.30,461.00C320.10,444.53 320.90,436.30 321.70,436.30C322.80,436.30 323.90,461.03 325.00,470.00C326.27,480.33 327.53,492.00 328.80,492.00C329.87,492.00 330.93,486.16 332.00,482.00C333.03,477.97 334.07,476.27 335.10,467.60C336.13,458.93 337.17,455.07 338.20,430.00C338.40,425.15 338.60,413.33 338.80,380.00C338.87,368.89 338.93,341.82 339.00,340.00C339.37,330.00 339.73,325.00 340.10,325.00C340.73,325.00 341.37,334.16 342.00,338.00C342.60,341.64 343.20,347.60 343.80,347.60C345.07,347.60 346.33,345.70 347.60,345.70C348.07,345.70 348.53,355.05 349.00,360.00C349.70,367.42 350.40,383.50 351.10,383.50C352.07,383.50 353.03,375.66 354.00,372.00C355.63,365.82 357.27,366.33 358.90,355.00C359.73,349.22 360.57,343.33 361.40,320.00C361.80,308.80 362.20,282.63 362.60,270.00C363.23,250.00 363.87,247.13 364.50,240.00C365.03,234.00 365.57,228.10 366.10,228.10C366.73,228.10 367.37,252.55 368.00,262.00C368.63,271.45 369.27,284.80 369.90,284.80C370.60,284.80 371.30,274.13 372.00,262.00C372.67,250.44 373.33,227.95 374.00,215.00C375.13,192.98 376.27,172.50 377.40,172.50C378.43,172.50 379.47,184.79 380.50,195.00C381.33,203.24 382.17,217.87 383.00,225.00C383.63,230.42 384.27,236.30 384.90,236.30C385.43,236.30 385.97,223.36 386.50,215.00C387.20,204.03 387.90,175.60 388.60,175.60C389.57,175.60 390.53,180.51 391.50,190.00C392.33,198.18 393.17,212.50 394.00,225.00C394.83,237.50 395.67,255.04 396.50,265.00C397.50,276.95 398.50,286.30 399.50,286.30C400.17,286.30 400.83,271.38 401.50,265.00C402.10,259.25 402.70,249.50 403.30,249.50C403.93,249.50 404.57,282.96 405.20,295.00C405.97,309.58 406.73,317.95 407.50,325.00C408.40,333.27 409.30,337.60 410.20,337.60C410.97,337.60 411.73,326.61 412.50,320.00C413.30,313.11 414.10,296.90 414.90,296.90C415.60,296.90 416.30,313.69 417.00,320.00C417.53,324.81 418.07,324.00 418.60,332.00C418.97,337.50 419.33,349.14 419.70,355.00C420.03,360.33 420.37,365.79 420.70,366.50C421.67,368.57 422.63,368.72 423.60,369.60C425.13,370.99 426.67,372.60 428.20,372.60C428.90,372.60 429.60,370.40 430.30,366.00C430.73,363.28 431.17,362.33 431.60,355.00C431.93,349.36 432.27,338.24 432.60,330.00C432.90,322.59 433.20,314.42 433.50,308.00C433.83,300.87 434.17,295.26 434.50,290.00C435.13,280.00 435.77,271.29 436.40,268.00C438.07,259.33 439.73,263.67 441.40,255.00C442.27,250.49 443.13,238.49 444.00,230.00C445.00,220.21 446.00,208.25 447.00,200.00C448.47,187.90 449.93,175.00 451.40,175.00C452.60,175.00 453.80,178.98 455.00,181.00C456.53,183.58 458.07,183.60 459.60,188.80C460.23,190.95 460.87,206.04 461.50,215.00C462.30,226.31 463.10,250.00 463.90,250.00C464.77,250.00 465.63,248.33 466.50,245.00C467.30,241.92 468.10,238.67 468.90,226.00C469.13,222.31 469.37,206.73 469.60,200.00C469.87,192.31 470.13,184.50 470.40,184.50C471.03,184.50 471.67,197.75 472.30,205.00C472.93,212.25 473.57,212.67 474.20,228.00C474.60,237.68 475.00,266.15 475.40,275.00C475.97,287.53 476.53,291.87 477.10,293.80C478.57,298.80 480.03,296.30 481.50,301.30C482.73,305.50 483.97,308.74 485.20,320.00C485.80,325.48 486.40,334.70 487.00,340.00C487.60,345.30 488.20,351.80 488.80,351.80C489.47,351.80 490.13,337.35 490.80,330.00C491.43,323.01 492.07,308.80 492.70,308.80C493.13,308.80 493.57,321.89 494.00,340.00C494.20,348.36 494.40,362.73 494.60,370.00C494.97,383.33 495.33,390.00 495.70,390.00C497.13,390.00 498.57,385.70 500.00,385.70C500.70,385.70 501.40,393.33 502.10,408.60C502.37,414.42 502.63,427.56 502.90,430.00C503.37,434.27 503.83,436.40 504.30,436.40C505.50,436.40 506.70,436.40 507.90,436.40C508.97,436.40 510.03,457.80 511.10,457.80C511.73,457.80 512.37,441.49 513.00,435.00C513.80,426.80 514.60,415.70 515.40,415.70C516.27,415.70 517.13,418.55 518.00,422.00C518.90,425.58 519.80,432.35 520.70,437.10C521.67,442.20 522.63,447.00 523.60,451.40C524.77,456.71 525.93,456.17 527.10,465.70C527.33,467.61 527.57,486.62 527.80,488.00C529.47,497.87 531.13,502.80 532.80,502.80C534.40,502.80 536.00,498.50 537.60,498.50C539.10,498.50 540.60,502.33 542.10,510.00C542.33,511.19 542.57,536.15 542.80,547.10C543.03,558.05 543.27,574.22 543.50,575.70C544.70,583.30 545.90,587.10 547.10,587.10C548.53,587.10 549.97,578.13 551.40,574.30C553.30,569.23 555.20,570.00 557.10,561.40C558.07,557.02 559.03,546.15 560.00,540.00C561.10,533.00 562.20,522.80 563.30,522.80C564.47,522.80 565.63,536.40 566.80,536.40C568.10,536.40 569.40,520.70 570.70,520.70C571.90,520.70 573.10,548.02 574.30,561.40C575.60,575.89 576.90,604.20 578.20,604.20C579.50,604.20 580.80,581.25 582.10,568.50C583.20,557.71 584.30,534.30 585.40,534.30C586.67,534.30 587.93,581.40 589.20,581.40C590.40,581.40 591.60,560.00 592.80,560.00C594.00,560.00 595.20,582.80 596.40,582.80C597.33,582.80 598.27,564.93 599.20,562.80C600.87,559.00 602.53,560.90 604.20,557.10C605.17,554.90 606.13,546.70 607.10,540.00C608.53,530.07 609.97,503.60 611.40,503.60C612.73,503.60 614.07,535.70 615.40,535.70C616.67,535.70 617.93,525.00 619.20,525.00C620.40,525.00 621.60,545.13 622.80,554.30C624.00,563.47 625.20,580.00 626.40,580.00C628.77,580.00 631.13,567.80 633.50,567.80C635.63,567.80 637.77,576.13 639.90,582.80C641.33,587.28 642.77,594.33 644.20,598.50C646.10,604.03 648.00,602.17 649.90,609.50C650.87,613.23 651.83,624.08 652.80,632.80C653.53,639.42 654.27,646.97 655.00,654.30C655.47,658.97 655.93,666.65 656.40,668.50C659.03,678.97 661.67,684.20 664.30,684.20C665.97,684.20 667.63,670.78 669.30,670.00C671.43,669.00 673.57,669.50 675.70,668.50C677.73,667.55 679.77,662.80 681.80,662.80C683.57,662.80 685.33,667.10 687.10,675.70C687.83,679.27 688.57,691.95 689.30,702.00C690.00,711.60 690.70,731.76 691.40,734.30C692.83,739.50 694.27,742.10 695.70,742.10C697.60,742.10 699.50,734.30 701.40,734.30C703.53,734.30 705.67,748.50 707.80,748.50C710.33,748.50 712.87,727.10 715.40,727.10C716.70,727.10 718.00,745.00 719.30,745.00C721.20,745.00 723.10,722.00 725.00,715.70C726.67,710.17 728.33,707.10 730.00,707.10C731.33,707.10 732.67,722.80 734.00,722.80C735.43,722.80 736.87,701.40 738.30,701.40C740.53,701.40 742.77,712.10 745.00,712.10C747.03,712.10 749.07,697.80 751.10,697.80C753.10,697.80 755.10,702.33 757.10,711.40C757.83,714.72 758.57,725.70 759.30,725.70C760.97,725.70 762.63,725.00 764.30,725.00C765.47,725.00 766.63,736.10 767.80,740.00C769.47,745.57 771.13,748.37 772.80,750.00C774.23,751.40 775.67,752.10 777.10,752.10C777.80,752.10 778.50,751.40 779.20,750.00C780.30,747.80 781.40,733.50 782.50,733.50C783.57,733.50 784.63,749.33 785.70,752.80C786.87,756.60 788.03,757.10 789.20,758.50C790.63,760.22 792.07,761.40 793.50,761.40C795.17,761.40 796.83,756.50 798.50,755.70C799.47,755.23 800.43,755.47 801.40,755.00C802.57,754.44 803.73,750.70 804.90,750.70C806.33,750.70 807.77,752.83 809.20,757.10C809.93,759.28 810.67,770.29 811.40,772.80C812.10,775.20 812.80,776.40 813.50,776.40C815.40,776.40 817.30,773.50 819.20,773.50C820.63,773.50 822.07,775.00 823.50,775.00C825.63,775.00 827.77,769.20 829.90,769.20C831.33,769.20 832.77,770.00 834.20,770.00C835.53,770.00 836.87,765.00 838.20,765.00C839.00,765.00 839.80,782.34 840.60,787.10C841.80,794.23 843.00,797.80 844.20,797.80C845.87,797.80 847.53,792.10 849.20,792.10C850.40,792.10 851.60,797.80 852.80,797.80C854.00,797.80 855.20,794.20 856.40,794.20C857.80,794.20 859.20,797.10 860.60,797.10C862.77,797.10 864.93,789.61 867.10,787.10C869.23,784.63 871.37,782.10 873.50,782.10C875.17,782.10 876.83,784.38 878.50,785.70C880.17,787.02 881.83,790.00 883.50,790.00C885.17,790.00 886.83,788.50 888.50,788.50C890.17,788.50 891.83,790.70 893.50,790.70C895.17,790.70 896.83,786.90 898.50,785.70C900.17,784.50 901.83,784.97 903.50,783.50C904.43,782.68 905.37,777.30 906.30,772.80C907.13,768.78 907.97,758.50 908.80,758.50C910.13,758.50 911.47,771.40 912.80,771.40C913.97,771.40 915.13,759.86 916.30,758.50C917.50,757.10 918.70,756.40 919.90,756.40C922.27,756.40 924.63,756.40 927.00,756.40C928.67,756.40 930.33,762.81 932.00,764.20C933.20,765.20 934.40,764.70 935.60,765.70C936.57,766.51 937.53,770.70 938.50,770.70C939.67,770.70 940.83,758.62 942.00,757.10C943.43,755.23 944.87,754.30 946.30,754.30C947.73,754.30 949.17,755.70 950.60,758.50C951.80,760.84 953.00,770.99 954.20,772.80C956.10,775.67 958.00,774.23 959.90,777.10C961.33,779.26 962.77,787.10 964.20,787.10C965.63,787.10 967.07,771.70 968.50,765.70C970.63,756.76 972.77,746.40 974.90,746.40C976.07,746.40 977.23,754.61 978.40,757.10C979.87,760.23 981.33,761.80 982.80,761.80C984.70,761.80 986.60,755.70 988.50,755.70C990.40,755.70 992.30,762.80 994.20,762.80C996.13,762.80 998.07,751.40 1000.00,751.40C1001.43,751.40 1002.87,753.33 1004.30,755.70C1005.97,758.46 1007.63,767.80 1009.30,767.80C1010.73,767.80 1012.17,758.86 1013.60,757.80C1014.87,756.87 1016.13,757.33 1017.40,756.40C1018.50,755.59 1019.60,747.82 1020.70,737.10C1021.80,726.38 1022.90,692.10 1024.00,692.10C1025.03,692.10 1026.07,725.76 1027.10,737.10C1028.07,747.71 1029.03,758.76 1030.00,759.30C1031.67,760.23 1033.33,759.77 1035.00,760.70C1036.67,761.63 1038.33,765.70 1040.00,765.70C1042.00,765.70 1044.00,762.10 1046.00,762.10C1047.33,762.10 1048.67,768.94 1050.00,771.40C1051.17,773.55 1052.33,776.40 1053.50,776.40C1054.93,776.40 1056.37,774.20 1057.80,774.20C1059.47,774.20 1061.13,780.00 1062.80,780.00C1064.23,780.00 1065.67,774.62 1067.10,771.40C1068.53,768.18 1069.97,760.70 1071.40,760.70C1072.83,760.70 1074.27,761.40 1075.70,761.40C1077.13,761.40 1078.57,757.80 1080.00,757.80C1082.13,757.80 1084.27,758.77 1086.40,760.70C1087.83,762.00 1089.27,766.81 1090.70,767.80C1092.83,769.27 1094.97,770.00 1097.10,770.00C1099.97,770.00 1102.83,769.52 1105.70,769.20C1107.60,768.99 1109.50,768.50 1111.40,768.50C1113.07,768.50 1114.73,770.70 1116.40,770.70C1118.07,770.70 1119.73,767.10 1121.40,767.10C1122.57,767.10 1123.73,768.53 1124.90,771.40C1125.63,773.20 1126.37,778.57 1127.10,780.00C1128.53,782.80 1129.97,782.70 1131.40,784.20C1133.30,786.19 1135.20,790.70 1137.10,790.70C1139.00,790.70 1140.90,790.70 1142.80,790.70C1145.17,790.70 1147.53,785.70 1149.90,785.70C1151.33,785.70 1152.77,785.70 1154.20,785.70C1155.87,785.70 1157.53,783.50 1159.20,783.50C1160.87,783.50 1162.53,785.90 1164.20,787.10C1165.87,788.30 1167.53,790.70 1169.20,790.70C1171.83,790.70 1174.47,785.00 1177.10,785.00C1179.23,785.00 1181.37,790.70 1183.50,790.70C1185.63,790.70 1187.77,790.20 1189.90,789.20C1191.33,788.53 1192.77,787.53 1194.20,784.20C1195.17,781.95 1196.13,774.34 1197.10,771.40C1197.80,769.27 1198.50,767.10 1199.20,767.10C1200.40,767.10 1201.60,771.40 1202.80,771.40C1204.20,771.40 1205.60,770.43 1207.00,768.50C1208.20,766.84 1209.40,759.21 1210.60,754.30C1211.57,750.35 1212.53,742.10 1213.50,742.10C1214.67,742.10 1215.83,753.50 1217.00,753.50C1218.43,753.50 1219.87,740.00 1221.30,740.00C1223.20,740.00 1225.10,745.07 1227.00,748.50C1229.07,752.23 1231.13,761.80 1233.20,761.80C1234.47,761.80 1235.73,751.83 1237.00,740.00C1237.87,731.90 1238.73,709.30 1239.60,709.30C1240.73,709.30 1241.87,722.68 1243.00,728.00C1244.27,733.94 1245.53,742.40 1246.80,742.40C1247.53,742.40 1248.27,723.79 1249.00,710.00C1249.67,697.47 1250.33,665.00 1251.00,665.00C1252.63,665.00 1254.27,680.63 1255.90,701.00C1256.60,709.73 1257.30,731.80 1258.00,731.80C1259.17,731.80 1260.33,723.05 1261.50,720.00C1262.67,716.95 1263.83,713.50 1265.00,713.50C1266.17,713.50 1267.33,732.09 1268.50,738.00C1269.93,745.27 1271.37,749.60 1272.80,749.60C1274.20,749.60 1275.60,743.09 1277.00,740.00C1278.23,737.28 1279.47,732.10 1280.70,732.10C1281.73,732.10 1282.77,746.76 1283.80,750.50C1286.10,758.83 1288.40,763.00 1290.70,763.00C1292.13,763.00 1293.57,750.00 1295.00,750.00C1296.90,750.00 1298.80,762.10 1300.70,762.10C1302.13,762.10 1303.57,760.06 1305.00,757.10C1306.73,753.52 1308.47,740.70 1310.20,740.70C1311.53,740.70 1312.87,746.91 1314.20,748.50C1316.60,751.37 1319.00,752.80 1321.40,752.80C1322.33,752.80 1323.27,736.41 1324.20,730.00C1325.87,718.56 1327.53,712.82 1329.20,707.10C1330.87,701.38 1332.53,699.65 1334.20,695.70C1336.03,691.35 1337.87,682.10 1339.70,682.10C1340.50,682.10 1341.30,701.97 1342.10,707.10C1342.57,710.09 1343.03,712.80 1343.50,712.80C1344.47,712.80 1345.43,711.40 1346.40,711.40C1347.83,711.40 1349.27,714.30 1350.70,714.30C1353.20,714.30 1355.70,699.30 1358.20,699.30C1359.50,699.30 1360.80,708.50 1362.10,708.50C1363.53,708.50 1364.97,707.57 1366.40,705.70C1367.43,704.35 1368.47,687.10 1369.50,687.10C1370.83,687.10 1372.17,699.42 1373.50,704.30C1374.93,709.55 1376.37,708.57 1377.80,717.10C1378.50,721.27 1379.20,725.99 1379.90,735.70C1380.43,743.10 1380.97,754.90 1381.50,764.00C1381.97,771.96 1382.43,782.33 1382.90,787.10C1383.83,796.63 1384.77,798.69 1385.70,801.40C1387.83,807.60 1389.97,810.70 1392.10,810.70C1394.27,810.70 1396.43,809.20 1398.60,809.20C1400.00,809.20 1401.40,810.00 1402.80,810.00C1404.00,810.00 1405.20,804.97 1406.40,802.80C1407.73,800.39 1409.07,796.40 1410.40,796.40C1412.17,796.40 1413.93,802.10 1415.70,802.10C1416.90,802.10 1418.10,801.87 1419.30,801.40C1420.70,800.86 1422.10,796.79 1423.50,794.30C1425.27,791.16 1427.03,784.30 1428.80,784.30C1429.90,784.30 1431.00,792.88 1432.10,795.70C1433.30,798.77 1434.50,800.62 1435.70,801.40C1437.13,802.33 1438.57,801.87 1440.00,802.80C1441.43,803.73 1442.87,807.97 1444.30,809.20C1445.47,810.20 1446.63,810.70 1447.80,810.70C1448.90,810.70 1450.00,809.20 1451.10,809.20C1452.50,809.20 1453.90,817.80 1455.30,817.80C1456.60,817.80 1457.90,815.48 1459.20,815.00C1460.63,814.47 1462.07,814.73 1463.50,814.20C1464.00,814.01 1464.50,804.34 1465.00,804.20C1466.67,803.73 1468.33,803.77 1470.00,803.50C1472.37,803.11 1474.73,802.10 1477.10,802.10C1478.53,802.10 1479.97,802.80 1481.40,804.20C1482.10,804.88 1482.80,809.09 1483.50,811.40C1485.17,816.90 1486.83,826.40 1488.50,826.40C1489.70,826.40 1490.90,821.26 1492.10,820.70C1494.23,819.70 1496.37,820.09 1498.50,819.20C1500.17,818.50 1501.83,817.67 1503.50,816.40C1504.80,815.41 1506.10,812.80 1507.40,812.80C1508.50,812.80 1509.60,820.78 1510.70,821.40C1512.37,822.33 1514.03,821.89 1515.70,822.80C1517.83,823.97 1519.97,828.50 1522.10,828.50C1524.23,828.50 1526.37,827.57 1528.50,825.70C1529.93,824.45 1531.37,821.00 1532.80,820.00C1534.23,819.00 1535.67,819.50 1537.10,818.50C1538.27,817.69 1539.43,812.80 1540.60,812.80C1543.00,812.80 1545.40,820.00 1547.80,820.00C1549.93,820.00 1552.07,815.55 1554.20,814.20C1555.87,813.14 1557.53,813.17 1559.20,812.10C1560.40,811.33 1561.60,809.20 1562.80,809.20C1564.47,809.20 1566.13,815.70 1567.80,815.70C1568.97,815.70 1570.13,815.20 1571.30,814.20C1572.27,813.37 1573.23,810.70 1574.20,810.70C1576.10,810.70 1578.00,817.10 1579.90,817.10C1581.33,817.10 1582.77,815.67 1584.20,812.80C1585.13,810.93 1586.07,796.17 1587.00,794.30C1587.73,792.83 1588.47,792.10 1589.20,792.10C1590.13,792.10 1591.07,795.00 1592.00,795.00C1593.20,795.00 1594.40,788.38 1595.60,787.80C1596.57,787.33 1597.53,787.10 1598.50,787.10C1600.17,787.10 1601.83,790.00 1603.50,790.00C1605.17,790.00 1606.83,785.00 1608.50,785.00C1610.63,785.00 1612.77,786.40 1614.90,786.40C1617.27,786.40 1619.63,784.30 1622.00,784.30C1622.97,784.30 1623.93,788.10 1624.90,790.00C1626.10,792.36 1627.30,797.10 1628.50,797.10C1629.90,797.10 1631.30,796.40 1632.70,796.40C1634.13,796.40 1635.57,802.10 1637.00,802.10C1639.40,802.10 1641.80,791.40 1644.20,791.40C1645.87,791.40 1647.53,800.70 1649.20,800.70C1650.87,800.70 1652.53,795.07 1654.20,792.80C1655.87,790.53 1657.53,787.10 1659.20,787.10C1661.80,787.10 1664.40,789.32 1667.00,790.70C1669.40,791.98 1671.80,793.97 1674.20,795.00C1675.63,795.61 1677.07,795.47 1678.50,796.40C1680.17,797.49 1681.83,802.10 1683.50,802.10C1685.20,802.10 1686.90,801.87 1688.60,801.40C1690.00,801.02 1691.40,796.40 1692.80,796.40C1693.53,796.40 1694.27,803.99 1695.00,807.10C1695.57,809.50 1696.13,813.50 1696.70,813.50C1698.03,813.50 1699.37,801.40 1700.70,801.40C1701.90,801.40 1703.10,806.30 1704.30,808.50C1705.73,811.13 1707.17,815.70 1708.60,815.70C1710.97,815.70 1713.33,814.36 1715.70,813.50C1717.97,812.68 1720.23,810.70 1722.50,810.70C1724.50,810.70 1726.50,815.00 1728.50,815.00C1730.17,815.00 1731.83,814.20 1733.50,814.20C1734.13,814.20 1734.77,820.90 1735.40,822.80C1736.20,825.20 1737.00,826.40 1737.80,826.40C1738.77,826.40 1739.73,820.41 1740.70,820.00C1743.07,819.00 1745.43,819.50 1747.80,818.50C1749.23,817.89 1750.67,812.95 1752.10,812.10C1754.47,810.70 1756.83,811.28 1759.20,810.00C1761.37,808.82 1763.53,807.10 1765.70,805.00C1767.60,803.16 1769.50,798.50 1771.40,798.50C1773.77,798.50 1776.13,799.20 1778.50,799.20C1779.70,799.20 1780.90,792.80 1782.10,792.80C1784.23,792.80 1786.37,796.50 1788.50,798.50C1791.13,800.97 1793.77,806.40 1796.40,806.40C1797.67,806.40 1798.93,799.20 1800.20,799.20C1801.43,799.20 1802.67,805.00 1803.90,805.00C1805.20,805.00 1806.50,800.70 1807.80,800.70C1809.23,800.70 1810.67,805.00 1812.10,805.00C1814.23,805.00 1816.37,804.03 1818.50,802.10C1819.93,800.80 1821.37,796.47 1822.80,795.00C1824.23,793.53 1825.67,793.24 1827.10,792.80C1829.47,792.07 1831.83,792.01 1834.20,791.70C1837.53,791.26 1840.87,790.70 1844.20,790.70C1845.63,790.70 1847.07,792.10 1848.50,792.10C1849.93,792.10 1851.37,792.10 1852.80,792.10C1854.23,792.10 1855.67,796.40 1857.10,796.40C1859.57,796.40 1862.03,791.40 1864.50,791.40C1866.77,791.40 1869.03,793.98 1871.30,795.70C1873.70,797.52 1876.10,802.10 1878.50,802.10C1880.63,802.10 1882.77,799.20 1884.90,799.20C1887.03,799.20 1889.17,805.00 1891.30,805.00C1893.70,805.00 1896.10,800.00 1898.50,800.00C1900.63,800.00 1902.77,803.92 1904.90,805.70C1907.03,807.48 1909.17,810.70 1911.30,810.70C1913.20,810.70 1915.10,805.62 1917.00,805.00C1918.43,804.53 1919.87,804.30 1921.30,804.30C1922.50,804.30 1923.70,806.38 1924.90,810.00C1925.37,811.41 1925.83,814.92 1926.30,815.00C1929.17,815.47 1932.03,815.70 1934.90,815.70C1936.33,815.70 1937.77,814.97 1939.20,813.50C1940.13,812.54 1941.07,808.50 1942.00,808.50C1942.97,808.50 1943.93,815.71 1944.90,817.10C1946.57,819.50 1948.23,819.23 1949.90,820.70C1951.07,821.73 1952.23,824.20 1953.40,824.20C1954.60,824.20 1955.80,820.70 1957.00,820.70C1958.67,820.70 1960.33,825.10 1962.00,827.10C1964.10,829.62 1966.20,834.00 1968.30,834.00C1970.53,834.00 1972.77,829.00 1975.00,829.00C1976.43,829.00 1977.87,832.00 1979.30,832.00C1981.73,832.00 1984.17,827.70 1986.60,827.70C1988.80,827.70 1991.00,830.52 1993.20,830.70C1996.53,830.97 1999.87,831.10 2003.20,831.10C2004.87,831.10 2006.53,830.58 2008.20,830.10C2009.87,829.62 2011.53,828.44 2013.20,828.20C2015.07,827.93 2016.93,828.07 2018.80,827.80C2020.40,827.57 2022.00,823.20 2023.60,823.20C2025.13,823.20 2026.67,826.02 2028.20,826.90C2029.23,827.49 2030.27,828.20 2031.30,828.20C2032.57,828.20 2033.83,827.80 2035.10,827.80C2036.53,827.80 2037.97,829.85 2039.40,831.90C2040.47,833.42 2041.53,835.14 2042.60,837.60C2043.63,839.98 2044.67,846.30 2045.70,846.30C2046.97,846.30 2048.23,835.10 2049.50,835.10C2050.73,835.10 2051.97,838.20 2053.20,838.20C2054.47,838.20 2055.73,835.70 2057.00,835.70C2058.03,835.70 2059.07,841.72 2060.10,843.80C2061.77,847.15 2063.43,849.00 2065.10,849.00C2067.60,849.00 2070.10,845.52 2072.60,844.40C2075.10,843.28 2077.60,843.13 2080.10,842.30C2082.60,841.47 2085.10,840.20 2087.60,839.40C2089.90,838.66 2092.20,838.13 2094.50,837.60" fill="none" stroke="#f2bb33" stroke-width="4" stroke-linejoin="round" stroke-linecap="round"/></g>
<g stroke="#2f3137" stroke-width="2" fill="none">
<line x1="238" y1="174" x2="238" y2="849"/>
<line x1="237" y1="848" x2="2096" y2="848"/>
<line x1="221" y1="179.40" x2="238" y2="179.40"/>
<line x1="221" y1="269.26" x2="238" y2="269.26"/>
<line x1="221" y1="359.12" x2="238" y2="359.12"/>
<line x1="221" y1="448.98" x2="238" y2="448.98"/>
<line x1="221" y1="538.84" x2="238" y2="538.84"/>
<line x1="221" y1="628.70" x2="238" y2="628.70"/>
<line x1="221" y1="718.56" x2="238" y2="718.56"/>
<line x1="221" y1="808.42" x2="238" y2="808.42"/>
<line x1="243.50" y1="848" x2="243.50" y2="865"/>
<line x1="551.95" y1="848" x2="551.95" y2="865"/>
<line x1="860.40" y1="848" x2="860.40" y2="865"/>
<line x1="1168.85" y1="848" x2="1168.85" y2="865"/>
<line x1="1477.30" y1="848" x2="1477.30" y2="865"/>
<line x1="1785.75" y1="848" x2="1785.75" y2="865"/>
<line x1="2094.20" y1="848" x2="2094.20" y2="865"/>
</g>
<g font-family="Liberation Sans, Arial, sans-serif" font-size="21" fill="#a3a6b1">
<text x="146.40" y="184.70" textLength="68.9" lengthAdjust="spacing">400.00</text>
<text x="146.40" y="274.56" textLength="68.9" lengthAdjust="spacing">350.00</text>
<text x="146.40" y="364.42" textLength="68.9" lengthAdjust="spacing">300.00</text>
<text x="146.40" y="454.28" textLength="68.9" lengthAdjust="spacing">250.00</text>
<text x="146.40" y="544.14" textLength="68.9" lengthAdjust="spacing">200.00</text>
<text x="146.40" y="634.00" textLength="68.9" lengthAdjust="spacing">150.00</text>
<text x="146.40" y="723.86" textLength="68.9" lengthAdjust="spacing">100.00</text>
<text x="158.10" y="813.72" textLength="57.2" lengthAdjust="spacing">50.00</text>
<text x="148.75" y="914" textLength="189.5" lengthAdjust="spacing">Apr 01, 2021 02AM</text>
<text x="455.45" y="914" textLength="193.0" lengthAdjust="spacing">Jan 29, 2022 01AM</text>
<text x="761.40" y="914" textLength="198.0" lengthAdjust="spacing">Nov 28, 2022 01AM</text>
<text x="1069.05" y="914" textLength="199.6" lengthAdjust="spacing">Sep 28, 2023 02AM</text>
<text x="1383.80" y="914" textLength="187.0" lengthAdjust="spacing">Jul 27, 2024 02AM</text>
<text x="1684.35" y="914" textLength="202.8" lengthAdjust="spacing">May 26, 2025 02AM</text>
<text x="1995.70" y="914" textLength="197.0" lengthAdjust="spacing">Mar 26, 2026 01AM</text>
</g>
<text transform="translate(61.6,510) rotate(-90)" text-anchor="middle" font-family="Liberation Sans, Arial, sans-serif" font-size="26" fill="#a2a7b7" textLength="50" lengthAdjust="spacing">USD</text>
</svg>
</div></body></html>
